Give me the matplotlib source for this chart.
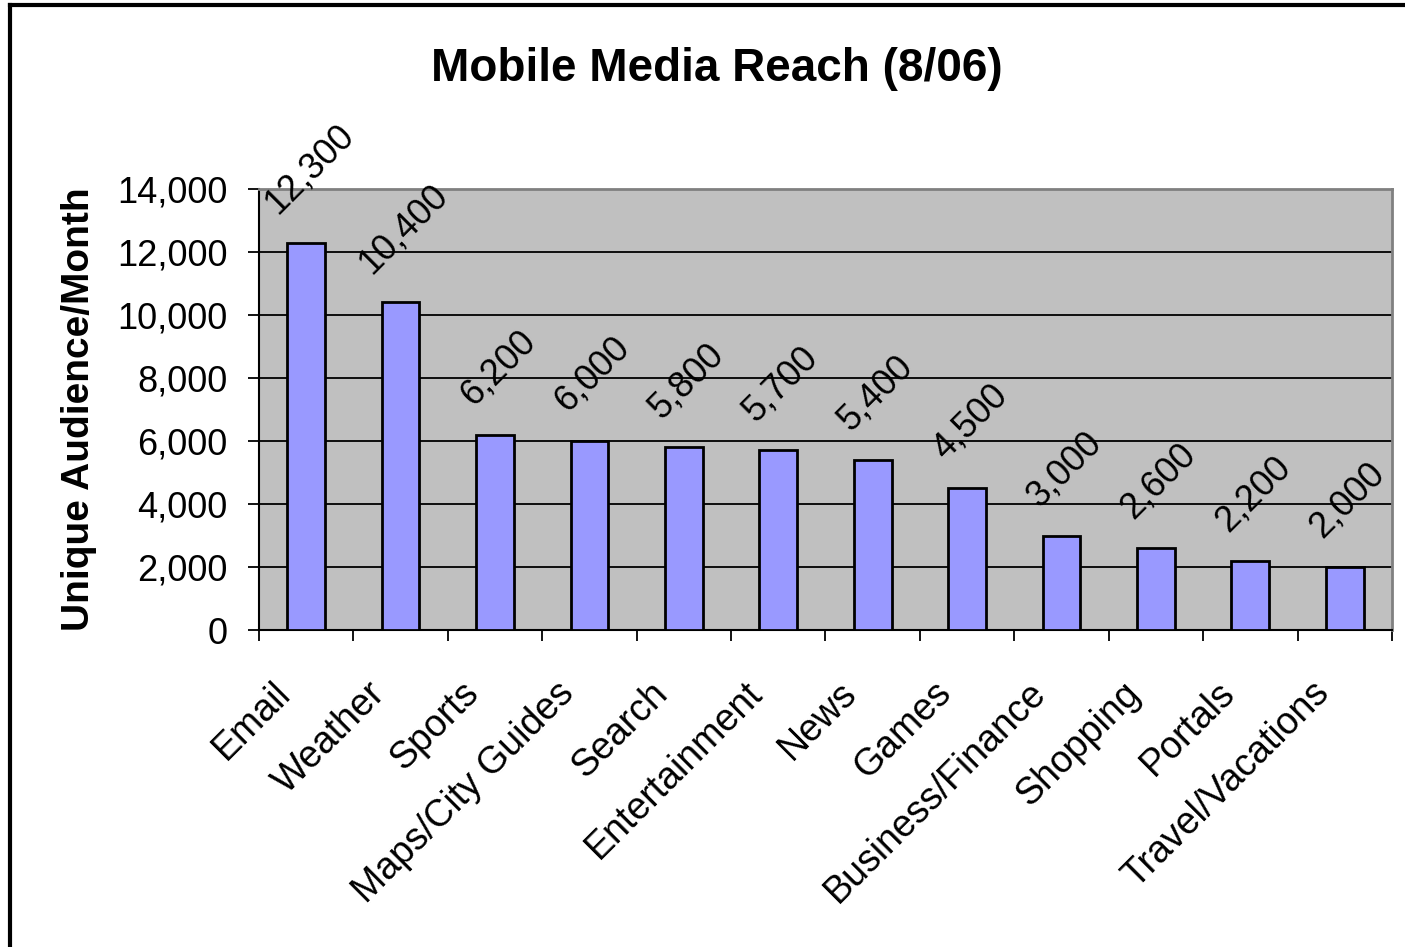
import numpy as np
import matplotlib
matplotlib.use("Agg")
import matplotlib.pyplot as plt
from matplotlib.lines import Line2D
from matplotlib.transforms import ScaledTranslation

plt.rcParams['font.family'] = ['Liberation Sans', 'DejaVu Sans']

categories = ["Email", "Weather", "Sports", "Maps/City Guides", "Search",
              "Entertainment", "News", "Games", "Business/Finance",
              "Shopping", "Portals", "Travel/Vacations"]
reach = [12300, 10400, 6200, 6000, 5800, 5700, 5400, 4500, 3000, 2600, 2200, 2000]
y_ticks = [0, 2000, 4000, 6000, 8000, 10000, 12000, 14000]

fig = plt.figure(figsize=(14.05, 9.47), dpi=100)
ax = fig.add_axes([0.1843, 0.3347, 0.8064, 0.4657])
ax.set_facecolor("#C0C0C0")

x = np.arange(len(categories))
ax.bar(x, reach, width=0.4, color="#9999FF", edgecolor="black", linewidth=2, zorder=3)

for xi, v in zip(x, reach):
    ax.annotate(f"{v:,}", (xi, v), xytext=(2, 16), textcoords="offset points",
                ha="center", va="bottom", rotation=45, fontsize=26, zorder=4)

ax.set_xlim(-0.5, len(categories) - 0.5)
ax.set_ylim(0, 14000)
ax.set_yticks(y_ticks)
ax.set_yticklabels([f"{t:,}" for t in y_ticks], fontsize=26)
ax.yaxis.grid(True, color="black", linewidth=1.3, zorder=1)
ax.set_axisbelow(True)
ax.tick_params(axis="y", direction="out", length=8, width=1.3, pad=14.5)

ax.set_xticks(x)
ax.set_xticklabels(categories, rotation=45, ha="right", va="top",
                   rotation_mode="anchor", fontsize=27)
ax.tick_params(axis="x", which="major", length=0, pad=0)
shift = ScaledTranslation(-0.34, -0.45, fig.dpi_scale_trans)
for lab in ax.get_xticklabels():
    lab.set_transform(lab.get_transform() + shift)
ax.set_xticks(np.arange(-0.5, len(categories)), minor=True)
ax.tick_params(axis="x", which="minor", direction="out", length=8, width=1.3)

for s in ["top", "right"]:
    ax.spines[s].set_color("#808080")
    ax.spines[s].set_linewidth(2)
for s in ["left", "bottom"]:
    ax.spines[s].set_color("black")
    ax.spines[s].set_linewidth(1.5)

ax.set_ylabel("Unique Audience/Month", fontsize=28, fontweight="bold")
ax.yaxis.set_label_coords(-0.143, 0.5)

fig.text(0.51, 0.927, "Mobile Media Reach (8/06)", ha="center", va="center",
         fontsize=33, fontweight="bold")

# outer chart border (left and top edges visible)
fig.add_artist(Line2D([10 / 1405, 10 / 1405], [0, 1 - 5 / 947], transform=fig.transFigure,
                      color="black", linewidth=3))
fig.add_artist(Line2D([10 / 1405, 1], [1 - 5 / 947, 1 - 5 / 947], transform=fig.transFigure,
                      color="black", linewidth=3))

fig.savefig("out.png", dpi=100)
